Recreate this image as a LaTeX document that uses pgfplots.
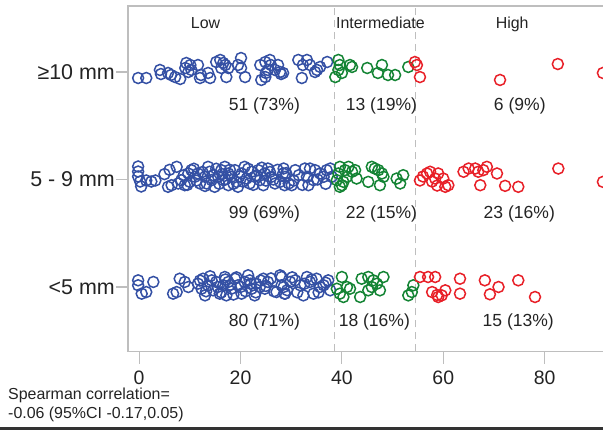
\documentclass[border=0pt]{standalone}
\usepackage{fontspec}
\setmainfont{Liberation Sans}
\usepackage{pgfplots}
\pgfplotsset{compat=1.18}
\definecolor{cblue}{RGB}{52,80,164}
\definecolor{cgreen}{RGB}{20,132,52}
\definecolor{cred}{RGB}{232,32,40}
\definecolor{frame}{RGB}{190,190,190}
\definecolor{txt}{RGB}{35,35,35}
\begin{document}
\begin{tikzpicture}
\begin{axis}[name=ax, scale only axis, width=480bp, height=345.5bp,
  xmin=-2.2, xmax=92.5, ymin=0.4, ymax=3.614,
  axis line style={draw=frame, line width=1.2bp},
  xtick={0,20,40,60,80}, ytick={1,2,3},
  yticklabels={{<5 mm},{5 - 9 mm},{≥10 mm}},
  tick align=outside, major tick length=12bp,
  tick style={draw=frame, line width=1.2bp},
  xtick pos=bottom, ytick pos=left,
  /pgf/number format/assume math mode=true,
  ticklabel style={font=\fontsize{19.5}{22}\selectfont, text=txt},
  xticklabel style={yshift=-3.5bp},
  yticklabel style={inner xsep=1bp, font=\fontsize{21.5}{24}\selectfont},
  clip=false,
  every axis plot/.append style={only marks, mark=o, mark size=5.5bp, line width=1.5bp},
]
\draw[frame, dashed, dash pattern=on 7bp off 5bp, line width=1bp] (axis cs:38.5,0.4) -- (axis cs:38.5,3.614);
\draw[frame, dashed, dash pattern=on 7bp off 5bp, line width=1bp] (axis cs:54.5,0.4) -- (axis cs:54.5,3.614);

% >=10 mm
\addplot[cblue] coordinates {
(-0.2,2.944)(1.4,2.944)(4.1,3.019)(4.3,2.981)(5.7,2.991)(6.3,2.972)(7.1,2.953)(8.1,2.935)
(9.3,3.084)(9.1,3.037)(10.1,3.065)(9.7,3.0)(10.3,3.019)(11.6,3.065)(12.0,2.944)(12.2,2.972)
(13.6,2.991)(14.0,2.944)(15.2,3.093)(16.0,3.112)(16.6,3.084)(16.2,3.037)(17.0,3.065)(17.2,2.953)
(17.6,3.037)(20.1,3.130)(20.1,3.037)(20.9,2.953)(19.5,3.065)(23.9,3.065)(24.9,3.093)(25.8,3.112)
(26.0,3.065)(26.8,3.019)(27.4,3.065)(27.8,3.0)(24.1,2.926)(24.9,2.953)(25.0,2.991)(25.4,3.019)
(28.0,2.981)(28.4,2.991)(31.4,3.112)(33.1,3.112)(32.3,3.065)(33.7,3.065)(32.1,2.944)(35.1,3.019)
(35.7,3.047)(37.1,3.093)(34.7,3.0)};
\addplot[cgreen] coordinates {
(39.3,3.112)(39.6,3.065)(38.7,2.953)(40.0,2.991)(39.3,3.019)(41.6,3.065)(42.0,3.047)
(45.0,3.037)(47.1,2.991)(47.9,3.065)(49.1,2.972)(50.5,2.972)(53.1,3.047)};
\addplot[cred] coordinates {
(54.4,3.093)(54.8,3.065)(55.4,2.953)(71.2,2.926)(82.6,3.074)(91.5,2.991)};

% 5 - 9 mm
\addplot[cblue] coordinates {
(-0.2,2.121)(-0.2,2.074)(-0.2,2.028)(0.2,1.981)(0.4,1.935)(1.4,1.991)(2.4,1.981)(3.2,1.991)
(7.4,2.118)(6.4,1.947)(5.7,1.932)(7.7,1.963)(8.3,1.994)(9.0,1.947)(9.7,2.056)(10.3,2.087)
(10.0,1.978)(11.0,2.025)(11.6,2.056)(12.0,1.963)(13.0,2.025)(13.6,2.118)(13.9,2.072)(13.3,1.963)
(14.3,1.994)(14.9,1.932)(15.6,2.025)(16.2,2.087)(16.9,2.118)(17.6,2.056)(16.6,1.994)(17.6,1.947)
(18.2,2.025)(18.9,2.087)(19.2,1.978)(19.5,1.932)(20.2,2.056)(20.8,2.118)(21.2,2.009)(21.8,1.963)
(22.2,2.072)(22.8,2.025)(23.5,2.087)(23.8,1.994)(24.5,1.947)(24.8,2.056)(25.4,2.102)(26.1,2.025)
(26.8,1.963)(27.8,1.978)(28.4,2.056)(28.7,1.947)
(28.5,2.102)(28.8,2.025)(29.5,1.963)(30.1,1.947)(30.8,2.087)(32.7,2.102)(33.7,2.102)(33.1,2.025)
(33.4,1.947)(34.4,1.994)(34.7,2.087)(35.7,2.056)(36.4,2.025)(37.0,2.087)(37.7,2.102)(38.0,2.025)
(5.0,2.05)(6.0,2.09)(8.8,2.04)(9.5,1.95)(10.8,2.10)(11.3,1.99)(12.5,2.07)(13.0,1.94)
(14.6,2.04)(15.2,2.10)(15.8,1.96)(16.4,2.05)(17.0,2.00)(17.9,2.09)(18.6,1.96)(19.8,2.03)
(20.5,1.98)(21.5,2.10)(22.5,1.95)(23.2,2.04)(24.2,2.11)(25.0,1.99)(25.8,2.07)(26.5,2.00)
(27.3,2.09)(29.0,2.06)(30.5,1.99)(31.5,2.04)(32.2,1.95)(35.2,2.00)(36.8,1.96)};
\addplot[cgreen] coordinates {
(39.6,2.118)(39.3,2.056)(39.0,1.994)(40.0,1.947)(40.6,2.087)(41.0,2.025)(41.3,2.118)(42.0,2.072)
(42.6,2.087)(42.9,2.009)(40.3,1.978)(39.6,1.932)(45.9,2.118)(46.5,2.102)(47.2,2.087)(47.9,2.056)
(48.2,2.025)(47.5,1.947)(45.2,1.978)(50.8,2.009)(51.5,1.963)(52.1,2.040)};
\addplot[cred] coordinates {
(55.4,1.991)(56.0,2.028)(56.8,2.056)(57.8,1.981)(58.4,2.009)(58.8,1.944)
(57.4,2.072)(59.0,2.056)(60.0,2.009)(60.4,1.932)(61.0,1.947)(64.0,2.072)(65.0,2.102)(66.3,2.102)
(66.9,2.072)(67.9,2.087)(68.6,2.118)(70.6,2.056)(67.3,1.947)(72.2,1.941)(74.8,1.932)(82.7,2.102)
(91.5,1.978)};

% <5 mm
\addplot[cblue] coordinates {
(-0.2,1.062)(-0.2,1.016)(0.5,0.938)(1.4,0.953)(2.8,1.047)(6.7,0.938)(7.4,0.953)(8.0,1.077)
(9.0,1.047)(9.7,1.0)(11.6,1.031)(12.3,0.984)(12.6,1.077)(13.0,0.922)(13.6,1.016)(14.3,1.062)
(14.6,0.969)(15.2,1.047)(15.9,0.938)(16.6,1.016)(16.9,1.093)(17.6,1.047)(17.2,0.922)(18.2,0.984)
(18.9,1.077)(19.5,1.016)(20.2,0.938)(20.8,1.047)(21.5,1.109)(21.8,1.062)(22.2,0.984)(22.8,0.922)
(23.1,1.031)(23.8,1.0)(24.5,1.077)(24.8,0.984)(25.4,1.047)(27.1,0.953)(27.8,1.109)(28.1,1.016)
(28.7,0.938)
(28.1,1.093)(28.5,1.0)(28.8,0.938)(29.8,1.047)(30.8,1.062)(31.8,1.016)(32.4,0.922)(33.1,1.093)
(33.7,1.047)(34.4,0.938)(35.0,1.077)(35.7,1.0)(36.4,1.016)(37.3,1.062)(37.7,0.969)
(12.0,1.06)(13.2,0.96)(14.0,1.10)(15.5,1.00)(16.2,0.95)(17.0,1.07)(18.0,1.02)(18.6,0.93)
(19.2,1.09)(20.0,1.00)(21.0,0.96)(22.0,1.03)(23.0,0.95)(24.0,1.06)(25.0,1.01)(26.0,1.08)
(26.6,0.96)(29.2,0.97)(30.2,1.09)(31.2,0.95)(32.6,1.03)(34.0,1.07)(35.4,0.95)(36.8,1.04)};
\addplot[cgreen] coordinates {
(40.0,1.093)(39.0,0.984)(39.6,0.938)(41.0,1.0)(41.6,0.984)(40.3,0.907)(43.6,0.907)(43.9,1.077)
(45.2,1.093)(46.2,1.062)(45.9,1.0)(46.9,1.031)(47.5,0.969)(48.2,1.093)(45.2,0.969)(53.1,0.922)
(54.1,1.016)(53.8,0.953)};
\addplot[cred] coordinates {
(55.4,1.093)(57.0,1.093)(58.4,1.093)(57.8,0.953)(58.8,0.926)(59.0,0.907)(59.7,0.922)(60.4,0.969)
(63.3,1.077)(63.3,0.938)(68.2,1.062)(69.2,0.932)(70.9,1.0)(74.8,1.062)(78.1,0.907)};

% headers
\begin{scope}[every node/.style={anchor=base, text=txt, font=\fontsize{16}{19}\selectfont}]
\node at (axis cs:13.1,3.409) {Low};
\node at (axis cs:47.6,3.409) {Intermediate};
\node at (axis cs:73.6,3.409) {High};
\end{scope}
% counts
\begin{scope}[every node/.style={anchor=base, text=txt, font=\fontsize{17.6}{20}\selectfont}]
\node at (axis cs:24.7,2.642) {51 (73\%)};
\node at (axis cs:47.8,2.642) {13 (19\%)};
\node at (axis cs:75.1,2.642) {6 (9\%)};
\node at (axis cs:24.7,1.633) {99 (69\%)};
\node at (axis cs:47.8,1.633) {22 (15\%)};
\node at (axis cs:75.0,1.633) {23 (16\%)};
\node at (axis cs:24.7,0.633) {80 (71\%)};
\node at (axis cs:46.4,0.633) {18 (16\%)};
\node at (axis cs:74.8,0.633) {15 (13\%)};
\end{scope}
\end{axis}
\node[anchor=base west, inner sep=0pt, text=txt, font=\fontsize{16}{19}\selectfont] at ([xshift=-120bp,yshift=-47.5bp]ax.south west) {Spearman correlation=};
\node[anchor=base west, inner sep=0pt, text=txt, font=\fontsize{16}{19}\selectfont] at ([xshift=-120bp,yshift=-67bp]ax.south west) {-0.06 (95\%CI -0.17,0.05)};
\fill[black!80] ([xshift=-128bp,yshift=-78.5bp]ax.south west) rectangle ([xshift=475bp,yshift=-75.5bp]ax.south west);
\pgfresetboundingbox
\useasboundingbox ([xshift=-128bp,yshift=-78.5bp]ax.south west) rectangle ([xshift=475bp,yshift=6bp]ax.north west);
\end{tikzpicture}
\end{document}
